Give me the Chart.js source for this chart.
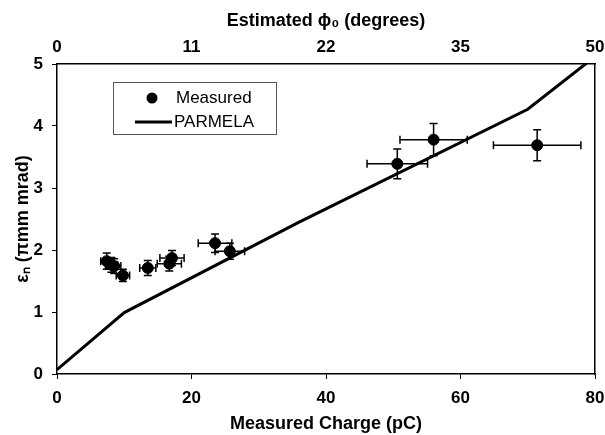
<!DOCTYPE html>
<html>
<head>
<meta charset="utf-8">
<script src="https://cdn.jsdelivr.net/npm/chart.js@4.4.1/dist/chart.umd.min.js"></script>
<style>
  html, body { margin: 0; padding: 0; background: #fff; }
  #wrap { width: 605px; height: 435px; }
</style>
</head>
<body>
<div id="wrap"><canvas id="chart" width="605" height="435"></canvas></div>
<script>
// measured points (charge in pC, normalised emittance in pi mm mrad)
const charge    = [7.4, 8.1, 8.5, 9.8, 13.5, 16.7, 17.1, 23.5, 25.7, 50.6, 56.0, 71.4];
const emittance = [1.82, 1.76, 1.74, 1.59, 1.71, 1.78, 1.87, 2.11, 1.98, 3.39, 3.78, 3.69];
const chargeErr = [0.9, 0.9, 1.0, 1.0, 1.2, 1.8, 1.8, 2.5, 2.2, 4.5, 5.0, 6.5];
const emitErr   = [0.13, 0.12, 0.12, 0.10, 0.12, 0.12, 0.12, 0.15, 0.13, 0.24, 0.26, 0.25];

// PARMELA simulation
const parmelaCharge = [0, 10, 36, 70, 80];
const parmelaEmit   = [0.07, 0.99, 2.45, 4.27, 5.12];

// top axis labels (estimated phase) at the charge ticks
const chargeTicks = [0, 20, 40, 60, 80];
const phaseTicks  = ['0', '11', '22', '35', '50'];

const FONT = "'Liberation Sans', Arial, sans-serif";

const errorBars = {
    id: 'errorBars',
    beforeDatasetsDraw(chart) {
        const { ctx, scales: { x, y } } = chart;
        const cap = 4;
        ctx.save();
        ctx.strokeStyle = '#000';
        ctx.lineWidth = 1.5;
        charge.forEach((q, i) => {
            const px = x.getPixelForValue(q);
            const py = y.getPixelForValue(emittance[i]);
            const x1 = x.getPixelForValue(q - chargeErr[i]);
            const x2 = x.getPixelForValue(q + chargeErr[i]);
            const y1 = y.getPixelForValue(emittance[i] - emitErr[i]);
            const y2 = y.getPixelForValue(emittance[i] + emitErr[i]);
            ctx.beginPath();
            ctx.moveTo(x1, py); ctx.lineTo(x2, py);
            ctx.moveTo(x1, py - cap); ctx.lineTo(x1, py + cap);
            ctx.moveTo(x2, py - cap); ctx.lineTo(x2, py + cap);
            ctx.moveTo(px, y1); ctx.lineTo(px, y2);
            ctx.moveTo(px - cap, y1); ctx.lineTo(px + cap, y1);
            ctx.moveTo(px - cap, y2); ctx.lineTo(px + cap, y2);
            ctx.stroke();
        });
        ctx.restore();
    }
};

const boxLegend = {
    id: 'boxLegend',
    afterDraw(chart) {
        const ctx = chart.ctx;
        ctx.save();
        ctx.fillStyle = '#fff';
        ctx.fillRect(113.5, 82.5, 163, 52);
        ctx.strokeStyle = '#555';
        ctx.lineWidth = 1;
        ctx.strokeRect(113.5, 82.5, 163, 52);
        ctx.fillStyle = '#000';
        ctx.beginPath();
        ctx.arc(152, 98, 5.5, 0, Math.PI * 2);
        ctx.fill();
        ctx.strokeStyle = '#000';
        ctx.lineWidth = 3;
        ctx.beginPath();
        ctx.moveTo(135, 122); ctx.lineTo(172, 122);
        ctx.stroke();
        ctx.font = '17px ' + FONT;
        ctx.textBaseline = 'middle';
        ctx.fillText('Measured', 176, 98);
        ctx.fillText('PARMELA', 174, 122);
        ctx.restore();
    }
};

const noSidePad = s => { s.paddingLeft = 0; s.paddingRight = 0; };

const ctx = document.getElementById('chart').getContext('2d');
new Chart(ctx, {
    type: 'scatter',
    data: {
        datasets: [
            { label: 'Measured', data: charge.map((q, i) => ({ x: q, y: emittance[i] })),
              pointRadius: 5.5, pointBackgroundColor: '#000', pointBorderColor: '#000', showLine: false },
            { label: 'PARMELA', data: parmelaCharge.map((q, i) => ({ x: q, y: parmelaEmit[i] })),
              showLine: true, borderColor: '#000', borderWidth: 3, pointRadius: 0, tension: 0 }
        ]
    },
    options: {
        responsive: false,
        animation: false,
        devicePixelRatio: 1,
        layout: { padding: 0 },
        plugins: { legend: { display: false }, tooltip: { enabled: false } },
        scales: {
            x: {
                type: 'linear', position: 'bottom', min: 0, max: 80,
                afterBuildTicks: s => { s.ticks = chargeTicks.map(v => ({ value: v })); },
                afterFit: s => { s.height = 61; noSidePad(s); },
                grid: { drawOnChartArea: false, drawTicks: true, tickLength: 5, color: '#000' },
                border: { display: true, color: '#000', width: 1.5 },
                ticks: { color: '#000', font: { family: FONT, size: 17, weight: 'bold' }, padding: 9, maxRotation: 0 },
                title: { display: true, text: 'Measured Charge (pC)', color: '#000',
                         font: { family: FONT, size: 18, weight: 'bold' }, padding: { top: 0, bottom: 0 } }
            },
            x2: {
                type: 'linear', position: 'top', min: 0, max: 80,
                afterBuildTicks: s => { s.ticks = chargeTicks.map(v => ({ value: v })); },
                afterFit: s => { s.height = 64; noSidePad(s); },
                grid: { display: false, drawTicks: false },
                border: { display: true, color: '#000', width: 1.5 },
                ticks: { color: '#000', font: { family: FONT, size: 17, weight: 'bold' }, padding: 6, maxRotation: 0,
                         callback: (v) => phaseTicks[chargeTicks.indexOf(v)] },
                title: { display: true, text: 'Estimated \u03d5\u2080 (degrees)', color: '#000',
                         font: { family: FONT, size: 18, weight: 'bold' }, padding: { top: 10, bottom: 0 } }
            },
            y: {
                type: 'linear', position: 'left', min: 0, max: 5,
                ticks: { stepSize: 1, color: '#000', font: { family: FONT, size: 17, weight: 'bold' }, padding: 9 },
                afterFit: s => { s.width = 57; },
                grid: { drawOnChartArea: false, drawTicks: true, tickLength: 5, color: '#000' },
                border: { display: true, color: '#000', width: 1.5 },
                title: { display: true, text: '\u03b5\u2099 (\u03c0mm mrad)', color: '#000',
                         font: { family: FONT, size: 18, weight: 'bold' }, padding: { top: 12, bottom: 0 } }
            },
            y2: {
                type: 'linear', position: 'right', min: 0, max: 5,
                afterFit: s => { s.width = 10; },
                grid: { display: false, drawTicks: false },
                border: { display: true, color: '#000', width: 1.5 },
                ticks: { display: false }
            }
        }
    },
    plugins: [errorBars, boxLegend]
});
</script>
</body>
</html>
